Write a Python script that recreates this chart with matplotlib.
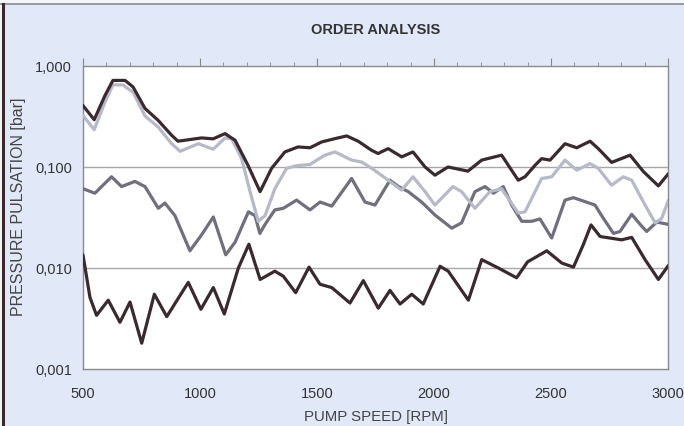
import matplotlib
matplotlib.use('Agg')
import matplotlib.pyplot as plt
from matplotlib.lines import Line2D
from matplotlib.patches import Rectangle
from matplotlib.ticker import FixedLocator, FixedFormatter, MultipleLocator, NullLocator

# dados (rpm, bar)
rpm_a = [500, 548, 594, 628, 680, 714, 765, 821, 879, 906, 1007, 1056, 1107, 1150, 1205, 1257,
         1306, 1363, 1419, 1470, 1520, 1577, 1627, 1676, 1734, 1761, 1804, 1862, 1910, 1962,
         2004, 2060, 2145, 2204, 2289, 2360, 2389, 2432, 2460, 2496, 2560, 2610, 2667, 2702,
         2759, 2838, 2895, 2959, 3002]
val_a = [0.406, 0.294, 0.51, 0.72, 0.72, 0.62, 0.38, 0.29, 0.206, 0.18, 0.194, 0.19, 0.214, 0.184, 0.104, 0.057,
         0.097, 0.141, 0.158, 0.155, 0.177, 0.191, 0.203, 0.18, 0.146, 0.136, 0.152, 0.126, 0.141, 0.1,
         0.083, 0.1, 0.091, 0.117, 0.131, 0.074, 0.08, 0.104, 0.121, 0.117, 0.17, 0.155, 0.18, 0.152,
         0.111, 0.131, 0.09, 0.065, 0.086]

rpm_b = [500, 548, 594, 628, 670, 714, 765, 821, 879, 915, 993, 1057, 1107, 1135, 1178, 1214,
         1249, 1278, 1320, 1370, 1413, 1470, 1534, 1577, 1648, 1691, 1734, 1791, 1841, 1862,
         1910, 1962, 2004, 2081, 2118, 2175, 2239, 2289, 2360, 2389, 2432, 2460, 2503, 2560,
         2610, 2667, 2702, 2759, 2809, 2845, 2902, 2945, 2973, 3002]
val_b = [0.324, 0.234, 0.44, 0.65, 0.65, 0.55, 0.32, 0.249, 0.17, 0.143, 0.17, 0.15, 0.194, 0.19, 0.121, 0.057,
         0.029, 0.033, 0.061, 0.097, 0.103, 0.106, 0.131, 0.141, 0.117, 0.112, 0.097, 0.078, 0.064, 0.059,
         0.08, 0.057, 0.042, 0.064, 0.057, 0.039, 0.057, 0.061, 0.035, 0.036, 0.057, 0.077, 0.08, 0.117,
         0.093, 0.108, 0.097, 0.066, 0.08, 0.074, 0.042, 0.028, 0.031, 0.047]

rpm_c = [500, 551, 622, 665, 722, 765, 822, 850, 893, 957, 1007, 1057, 1110, 1150, 1207, 1235,
         1256, 1278, 1320, 1356, 1413, 1470, 1513, 1563, 1648, 1705, 1748, 1812, 1848, 1890,
         1947, 2004, 2076, 2118, 2175, 2218, 2254, 2296, 2332, 2375, 2418, 2453, 2503, 2560,
         2596, 2688, 2724, 2767, 2795, 2845, 2881, 2909, 2952, 3002]
val_c = [0.061, 0.055, 0.08, 0.064, 0.072, 0.064, 0.039, 0.044, 0.033, 0.0148, 0.0213, 0.032, 0.0135, 0.018, 0.036, 0.033,
         0.022, 0.027, 0.0376, 0.039, 0.047, 0.0376, 0.045, 0.041, 0.077, 0.045, 0.042, 0.074, 0.064, 0.057,
         0.045, 0.0335, 0.0248, 0.028, 0.057, 0.064, 0.055, 0.064, 0.042, 0.029, 0.029, 0.0306, 0.0198, 0.047,
         0.0497, 0.042, 0.031, 0.022, 0.023, 0.034, 0.027, 0.023, 0.0285, 0.027]

rpm_d = [500, 530, 558, 608, 658, 701, 751, 805, 858, 950, 1004, 1057, 1104, 1164, 1209, 1257,
         1320, 1356, 1409, 1466, 1513, 1563, 1641, 1698, 1762, 1812, 1855, 1905, 1954, 2026,
         2061, 2147, 2204, 2275, 2353, 2400, 2482, 2546, 2596, 2638, 2671, 2710, 2802, 2845,
         2902, 2959, 3002]
val_d = [0.0135, 0.0051, 0.0034, 0.0048, 0.0029, 0.0046, 0.0018, 0.0055, 0.0033, 0.0072, 0.0039, 0.0064, 0.0035, 0.01, 0.0172, 0.0077,
         0.0093, 0.0083, 0.0057, 0.0102, 0.0069, 0.0064, 0.0045, 0.0075, 0.004, 0.006, 0.0044, 0.0055, 0.0044, 0.0104,
         0.0093, 0.0048, 0.0121, 0.01, 0.008, 0.0115, 0.0148, 0.0112, 0.0102, 0.017, 0.0267, 0.0205, 0.019, 0.0201,
         0.0121, 0.0077, 0.0106]

y_ticks = [0.001, 0.01, 0.1, 1.0]
y_labels = ['0,001', '0,010', '0,100', '1,000']
x_ticks = [500, 1000, 1500, 2000, 2500, 3000]

fonte = ['Liberation Sans', 'DejaVu Sans']
plt.rcParams['font.family'] = fonte

fundo = '#e1e9f8'
fig = plt.figure(figsize=(6.84, 4.27), dpi=100, facecolor=fundo)

# margem branca da página e bordas
fig.add_artist(Rectangle((0, 0.988), 1, 0.012, transform=fig.transFigure, color='#f4f6fa', zorder=0))
fig.add_artist(Rectangle((0, 0), 0.003, 1, transform=fig.transFigure, color='#f4f6fa', zorder=0))
fig.add_artist(Line2D([0, 1], [0.988, 0.988], transform=fig.transFigure, color='#8a8a90', lw=1.2))
fig.add_artist(Line2D([0.0045, 0.0045], [0, 0.988], transform=fig.transFigure, color='#3a2a2c', lw=2.2))

ax = fig.add_axes([0.1213, 0.1335, 0.8553, 0.7096])

# grade horizontal
for g in [0.01, 0.1]:
    ax.axhline(g, color='#a8a8a8', lw=1.0, zorder=1)

estilo = dict(lw=2.3, solid_joinstyle='round', solid_capstyle='round', zorder=3)
ax.plot(rpm_c, val_c, color='#6f6f7e', **estilo)
ax.plot(rpm_b, val_b, color='#b5b9c9', **estilo)
ax.plot(rpm_a, val_a, color='#3b2a2d', **estilo)
ax.plot(rpm_d, val_d, color='#3b2a2d', **estilo)

ax.set_yscale('log')
ax.set_ylim(0.001, 1.0)
ax.set_xlim(500, 3000)

ax.yaxis.set_major_locator(FixedLocator(y_ticks))
ax.yaxis.set_major_formatter(FixedFormatter(y_labels))
ax.yaxis.set_minor_locator(NullLocator())
ax.tick_params(axis='y', length=0, labelsize=10.5, labelcolor='#333333', pad=8)

ax.set_xticks(x_ticks)
ax.set_xticklabels([str(x) for x in x_ticks])
ax.tick_params(axis='x', which='both', bottom=False, top=True, direction='out',
               labelsize=10.5, labelcolor='#333333', pad=6, color='#888888')
ax.tick_params(axis='x', which='major', length=6)
ax.xaxis.set_minor_locator(MultipleLocator(100))
ax.tick_params(axis='x', which='minor', length=3)

for s in ax.spines.values():
    s.set_color('#8a8a8a')
    s.set_linewidth(1.0)

fig.text(0.549, 0.93, 'ORDER ANALYSIS', ha='center', va='center', fontsize=10.5, fontweight='bold',
         color='#333333')
fig.text(0.549, 0.024, 'PUMP SPEED [RPM]', ha='center', va='center', fontsize=10.8,
         color='#444444')
fig.text(0.027, 0.515, 'PRESSURE PULSATION [bar]', ha='center', va='center', rotation=90, fontsize=11.5,
         color='#444444')

fig.savefig('out.png', dpi=100, facecolor=fundo)
